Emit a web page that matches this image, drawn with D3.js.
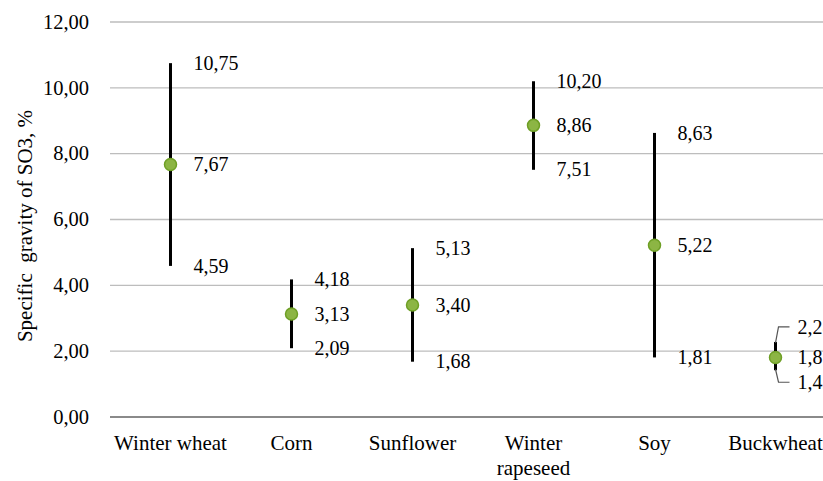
<!DOCTYPE html>
<html><head><meta charset="utf-8">
<script src="https://d3js.org/d3.v7.min.js"></script>
</head><body style="margin:0"><svg id="c" width="823" height="481"></svg>
<script>
const categories = ["Winter wheat","Corn","Sunflower","Winter rapeseed","Soy","Buckwheat"];
const meanValues = [7.67,3.13,3.40,8.86,5.22,1.81];
const highValues = [10.75,4.18,5.13,10.20,8.63,2.28];
const lowValues  = [4.59,2.09,1.68,7.51,1.81,1.42];
const yTicks = [0,2,4,6,8,10,12];
const yTitle = "Specific  gravity of SO3, %";

(function(){
const FONT = '"Liberation Serif", monospace';
const fmt = v => d3.format(".2f")(v).replace(".", ",");
const svg = d3.select("#c");
const mLeft = 110, mTop = 22, mBottom = 417;
const x = d3.scaleBand().domain(categories).range([mLeft, mLeft + 726]);
const y = d3.scaleLinear().domain([0,12]).range([mBottom, mTop]);

svg.append("g").selectAll("line").data(yTicks.filter(t=>t>0)).join("line")
  .attr("x1", mLeft).attr("x2", 823).attr("y1", d=>y(d)).attr("y2", d=>y(d))
  .attr("stroke", "#bdbdbd").attr("stroke-width", 1.3);
svg.append("line").attr("x1", mLeft).attr("x2", 823).attr("y1", y(0)).attr("y2", y(0))
  .attr("stroke", "#8a8a8a").attr("stroke-width", 2);
svg.append("g").selectAll("text").data(yTicks).join("text")
  .attr("x", 89).attr("y", d=>y(d)).attr("dy", "0.33em").attr("text-anchor", "end")
  .attr("font-size", 20.5).style("font-family", FONT).text(d=>fmt(d));
svg.append("text").attr("transform", "translate(32,226) rotate(-90)")
  .attr("text-anchor", "middle").attr("font-size", 21).style("font-family", FONT)
  .attr("xml:space","preserve").text(yTitle);
const xl = svg.append("g").selectAll("text").data(categories).join("text")
  .attr("x", d=>x(d)+x.bandwidth()/2).attr("y", 450).attr("text-anchor", "middle")
  .attr("font-size", 21).style("font-family", FONT);
xl.each(function(d){
  const t = d3.select(this);
  if (d === "Winter rapeseed") {
    t.append("tspan").attr("x", x(d)+x.bandwidth()/2).text("Winter");
    t.append("tspan").attr("x", x(d)+x.bandwidth()/2).attr("dy", 25).text("rapeseed");
  } else t.text(d);
});

const data = categories.map((c,i)=>({c, m:meanValues[i], h:highValues[i], l:lowValues[i]}));
const cx = d => x(d.c) + x.bandwidth()/2;
svg.append("g").selectAll("line").data(data).join("line")
  .attr("x1", cx).attr("x2", cx).attr("y1", d=>y(d.h)).attr("y2", d=>y(d.l))
  .attr("stroke", "#000").attr("stroke-width", 3);
svg.append("g").selectAll("circle").data(data).join("circle")
  .attr("cx", cx).attr("cy", d=>y(d.m)).attr("r", 6)
  .attr("fill", "#8cb544").attr("stroke", "#6e9f25").attr("stroke-width", 1.5);

const lab = svg.append("g");
data.forEach((d,i)=>{
  const last = i === data.length-1;
  const lx = cx(d) + (last ? 22 : 23);
  const yh = last ? y(d.h) - 15 : y(d.h);
  const yl = last ? y(d.l) + 12 : y(d.l);
  const ym = y(d.m);
  [[d.h,yh],[d.m,ym],[d.l,yl]].forEach(([v,yy])=>{
    lab.append("text").attr("x", lx).attr("y", yy).attr("dy","0.33em")
      .attr("font-size", 20).style("font-family", FONT).text(fmt(v));
  });
  if (last) {
    const c = cx(d);
    svg.append("path").attr("d", `M${c},${y(d.h)+1} L${c+3},${yh} L${c+14},${yh}`)
      .attr("fill","none").attr("stroke","#555").attr("stroke-width",1.2);
    svg.append("path").attr("d", `M${c},${y(d.l)-1} L${c+3},${yl} L${c+14},${yl}`)
      .attr("fill","none").attr("stroke","#555").attr("stroke-width",1.2);
  }
});
})();
</script></body></html>
